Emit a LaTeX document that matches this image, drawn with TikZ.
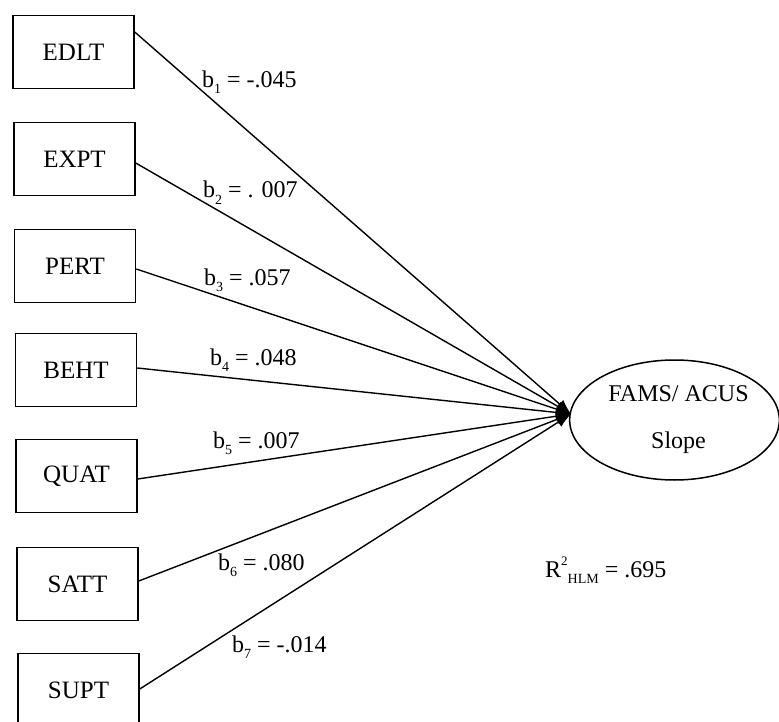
\documentclass[tikz,border=0pt]{standalone}
\usepackage{fontspec}
\setmainfont{Liberation Serif}
\usetikzlibrary{arrows.meta,shapes.geometric}
\newcommand\lowsub[1]{\raisebox{-6pt}{\fontsize{14}{14}\selectfont #1}}
\newcommand\highsup[1]{\raisebox{12pt}{\fontsize{13}{13}\selectfont #1}}
\begin{document}
\begin{tikzpicture}[x=1pt,y=-1pt,
  varbox/.style={draw,line width=1.5pt,minimum width=121pt,minimum height=73pt,inner sep=0pt,font=\fontsize{25}{29}\selectfont},
  coef/.style={anchor=base west,inner sep=0pt,font=\fontsize{24}{28}\selectfont},
  path/.style={line width=1.4pt,-{Latex[length=15pt,width=11pt]}}]
\useasboundingbox (0,0) rectangle (779,722);
\node[varbox] (edlt) at (73.5,52) {EDLT};
\node[varbox] (expt) at (74.5,159) {EXPT};
\node[varbox] (pert) at (75,266) {PERT};
\node[varbox] (beht) at (76,370) {BEHT};
\node[varbox] (quat) at (76.5,476) {QUAT};
\node[varbox] (satt) at (77.5,584) {SATT};
\node[varbox] (supt) at (78.5,690) {SUPT};
\node[draw,ellipse,line width=1.5pt,minimum width=206pt,minimum height=120pt,inner sep=0pt,align=center,font=\fontsize{24}{47}\selectfont] (fams) at (674.5,420) {\hspace*{8pt}FAMS/ ACUS\\\hspace*{8pt}Slope};
\coordinate (tip) at (571,414);
\draw[path] ([yshift=20pt]edlt.east) -- (tip);
\draw[path] ([yshift=-4pt]expt.east) -- (tip);
\draw[path] ([yshift=-3pt]pert.east) -- (tip);
\draw[path] ([yshift=2pt]beht.east) -- (tip);
\draw[path] ([yshift=-3pt]quat.east) -- (tip);
\draw[path] ([yshift=3pt]satt.east) -- (tip);
\draw[path] ([yshift=1pt]supt.east) -- (tip);
\node[coef] (l1) at (202,88) {b\lowsub{1} = -.045};
\node[coef] (l2) at (203,198) {b\lowsub{2} = . 007};
\node[coef] (l3) at (204,285) {b\lowsub{3} = .057};
\node[coef] (l4) at (210,365) {b\lowsub{4} = .048};
\node[coef] (l5) at (213,448) {b\lowsub{5} = .007};
\node[coef] (l6) at (218,570) {b\lowsub{6} = .080};
\node[coef] (l7) at (232,652) {b\lowsub{7} = -.014};
\node[coef] (r2) at (545,577) {R\highsup{2}\lowsub{HLM} = .695};
\end{tikzpicture}
\end{document}
